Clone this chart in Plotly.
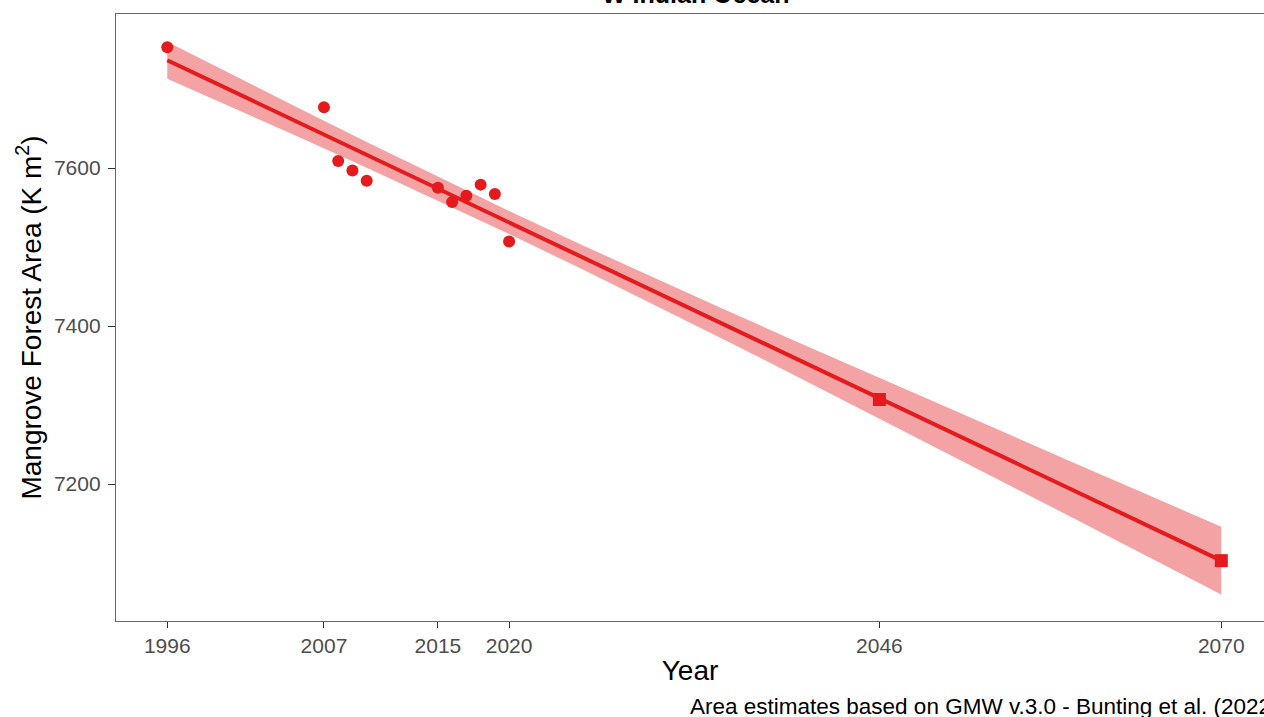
import plotly.graph_objects as go

# Observed mangrove area (K m^2)
obs_years = [1996, 2007, 2008, 2009, 2010, 2015, 2016, 2017, 2018, 2019, 2020]
obs_area = [7753, 7677, 7609, 7597, 7584, 7575, 7557, 7565, 7579, 7567, 7507]

# Projected values
proj_years = [2046, 2070]
proj_area = [7307, 7103]

# Linear trend line
fit_years = [1996, 2070]
fit_area = [7736.5, 7103.1]

# Confidence band
band_years = [1996, 2000, 2005, 2010, 2015, 2020, 2025, 2030, 2035, 2040,
              2046, 2050, 2055, 2060, 2065, 2070]
band_upper = [7760.0, 7723.4, 7677.9, 7633.0, 7588.8, 7545.6, 7503.5, 7462.3,
              7421.8, 7381.8, 7334.2, 7302.7, 7263.4, 7224.1, 7185.0, 7145.9]
band_lower = [7713.0, 7681.2, 7641.1, 7600.4, 7559.0, 7516.6, 7473.1, 7428.7,
              7383.6, 7338.0, 7282.8, 7245.9, 7199.6, 7153.3, 7106.8, 7060.3]

x_ticks = [1996, 2007, 2015, 2020, 2046, 2070]
y_ticks = [7200, 7400, 7600]

RED = "#E41A1C"
FONT = "Liberation Sans, Arial, sans-serif"

fig = go.Figure()
fig.add_trace(go.Scatter(x=band_years, y=band_lower, mode="lines",
                         line=dict(width=0), showlegend=False, hoverinfo="skip"))
fig.add_trace(go.Scatter(x=band_years, y=band_upper, mode="lines",
                         line=dict(width=0), fill="tonexty",
                         fillcolor="rgba(228,26,28,0.4)", showlegend=False,
                         hoverinfo="skip"))
fig.add_trace(go.Scatter(x=fit_years, y=fit_area, mode="lines",
                         line=dict(color=RED, width=4), showlegend=False))
fig.add_trace(go.Scatter(x=obs_years, y=obs_area, mode="markers",
                         marker=dict(color=RED, size=12, symbol="circle"),
                         showlegend=False))
fig.add_trace(go.Scatter(x=proj_years, y=proj_area, mode="markers",
                         marker=dict(color=RED, size=13, symbol="square"),
                         showlegend=False))

W, H = 1264, 717
ML, MR, MT, MB = 116, 0, 14, 96
pw = W - ML - MR
ph = H - MT - MB

fig.update_layout(
    width=W, height=H,
    margin=dict(l=ML, r=MR, t=MT, b=MB, pad=0),
    plot_bgcolor="white", paper_bgcolor="white",
    font=dict(family=FONT, color="black"),
    xaxis=dict(
        range=[1992.4, 2073.0], tickmode="array", tickvals=x_ticks,
        ticktext=[str(v) for v in x_ticks],
        showgrid=False, zeroline=False,
        showline=True, linecolor="#666666", linewidth=1.3, mirror=True,
        ticks="outside", ticklen=6, tickcolor="#333333", tickwidth=1.3,
        tickfont=dict(size=21, color="#4D4D4D", family=FONT),
        title=dict(text="Year", font=dict(size=28, color="black", family=FONT),
                   standoff=4),
    ),
    yaxis=dict(
        range=[7026.6, 7795], tickmode="array", tickvals=y_ticks,
        ticktext=[str(v) for v in y_ticks],
        showgrid=False, zeroline=False,
        showline=True, linecolor="#666666", linewidth=1.3, mirror=False,
        ticks="outside", ticklen=7, tickcolor="#333333", tickwidth=1.3,
        ticklabelstandoff=3,
        tickfont=dict(size=21, color="#4D4D4D", family=FONT),
        title=dict(text="Mangrove Forest Area (K m<sup>2</sup>)",
                   font=dict(size=28, color="black", family=FONT), standoff=4),
    ),
    annotations=[
        dict(text="<b>W Indian Ocean</b>", xref="paper", yref="paper",
             x=(696 - ML) / pw, y=1 + (MT - 10) / ph, xanchor="center",
             yanchor="bottom", showarrow=False,
             font=dict(size=25, color="black", family=FONT)),
        dict(text="Area estimates based on GMW v.3.0 - Bunting et al. (2022)",
             xref="paper", yref="paper", x=(688 - ML) / pw,
             y=(H - MB - 706) / ph,
             xanchor="left", yanchor="middle", showarrow=False,
             font=dict(size=22.5, color="black", family=FONT)),
    ],
)
fig.write_html("out.html", config={"displayModeBar": False},
               post_script="document.body.style.margin='0';")
